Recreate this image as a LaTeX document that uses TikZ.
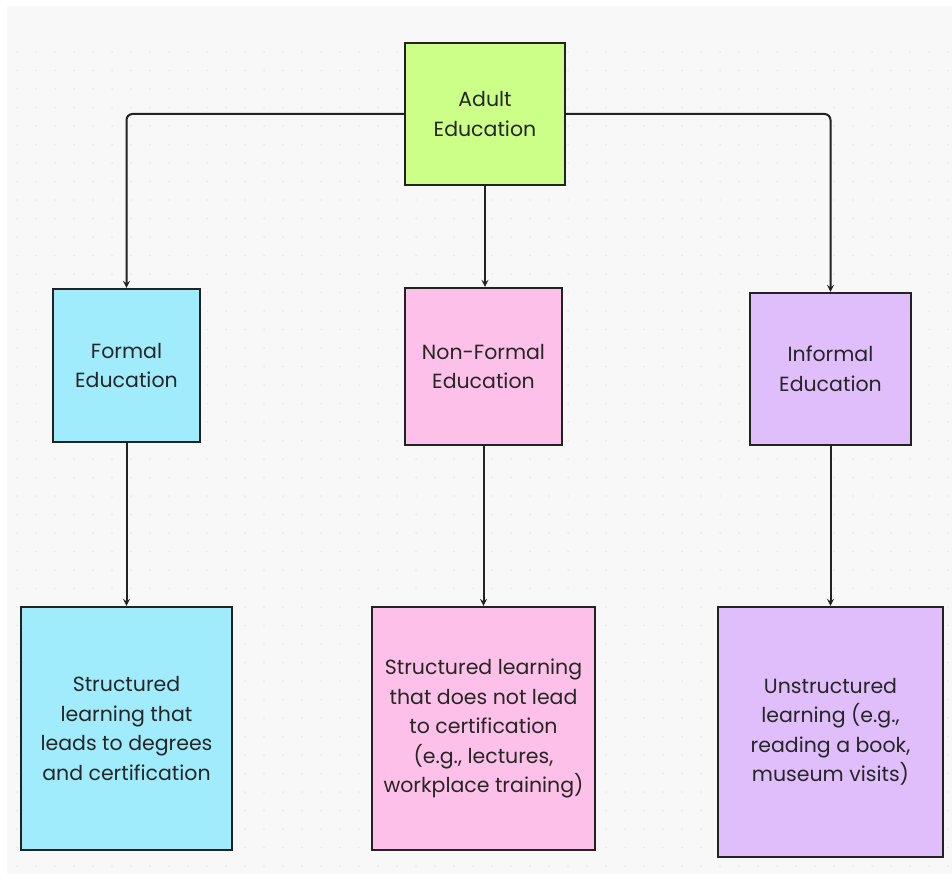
\documentclass[tikz,border=0pt]{standalone}
\usepackage{fontspec}
\setmainfont{Poppins}
\usetikzlibrary{positioning}
\definecolor{fondo}{HTML}{F8F8F8}
\definecolor{punto}{HTML}{EBEBEB}
\definecolor{verde}{HTML}{CCFF88}
\definecolor{celeste}{HTML}{A0ECFC}
\definecolor{rosa}{HTML}{FDC0E9}
\definecolor{lila}{HTML}{E0BEFB}
\definecolor{borde}{HTML}{222222}
\begin{document}
\begin{tikzpicture}[
    x=1pt,
    y=-1pt,
    >=stealth,
    font=\fontsize{20.5}{29.5}\selectfont,
    caja/.style={draw=borde,line width=2.4pt,align=center,inner sep=0pt,text=black!85},
    flecha/.style={line width=2pt,draw=borde,->,rounded corners=6pt}
]
    \useasboundingbox (0,0) rectangle (952,880);

    % Fondo con puntos
    \path[fill=white] (0,0) rectangle (952,880);
    \path[fill=fondo] (7,6) rectangle (952,874);
    \foreach \x in {17,36,...,950}{
        \foreach \y in {52,70.5,...,870}{
            \fill[punto] (\x,\y) circle (1);
        }
    }

    % Raiz
    \node[caja,fill=verde,minimum width=160,minimum height=142]
        (adulta) at (485,114) {Adult\\Education};

    % Tipos
    \node[caja,fill=celeste,minimum width=147,minimum height=153]
        (formal) at (126.5,365.5) {Formal\\Education};
    \node[caja,fill=rosa,minimum width=157,minimum height=157]
        (noformal) at (483.5,366.5) {Non-Formal\\Education};
    \node[caja,fill=lila,minimum width=161,minimum height=152]
        (informal) at (830.5,369) {Informal\\Education};

    % Descripciones
    \node[caja,fill=celeste,minimum width=211,minimum height=243]
        (dformal) at (126.5,728.5)
        {Structured\\learning that\\leads to degrees\\and certification};
    \node[caja,fill=rosa,minimum width=223,minimum height=243]
        (dnoformal) at (483.5,728.5)
        {Structured learning\\that does not lead\\to certification\\(e.g., lectures,\\workplace training)};
    \node[caja,fill=lila,minimum width=225,minimum height=250]
        (dinformal) at (830.5,732)
        {Unstructured\\learning (e.g.,\\reading a book,\\museum visits)};

    % Conectores
    \draw[flecha] (adulta.west) -| (formal.north);
    \draw[flecha] (adulta.east) -| (informal.north);
    \draw[flecha] (adulta.south) -- (adulta.south |- noformal.north);
    \draw[flecha] (formal.south) -- (dformal.north);
    \draw[flecha] (noformal.south) -- (dnoformal.north);
    \draw[flecha] (informal.south) -- (dinformal.north);
\end{tikzpicture}
\end{document}
